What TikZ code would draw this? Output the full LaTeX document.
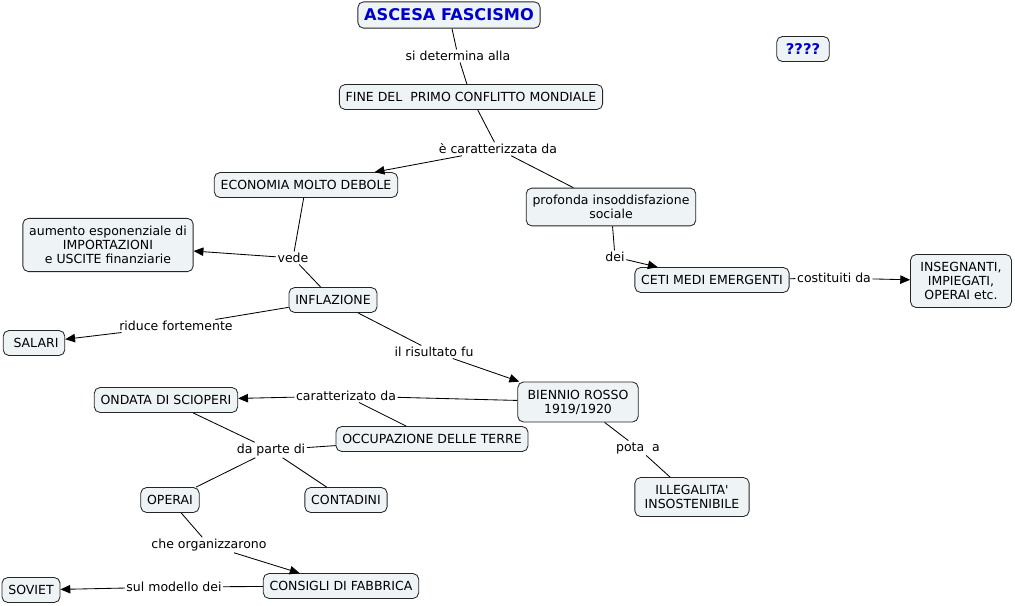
\documentclass[tikz,border=0pt]{standalone}
\usepackage{fontspec}
\setmainfont{DejaVu Sans}[Ligatures=TeXOff]
\usetikzlibrary{arrows.meta}
\definecolor{cmapfill}{RGB}{238,243,246}
\definecolor{cmapblue}{RGB}{0,0,204}

\begin{document}
\begin{tikzpicture}[x=0.025cm,y=-0.025cm,
	concept/.style={draw=black!85,fill=cmapfill,rounded corners=4pt,align=center,inner xsep=4.5pt,inner ysep=5pt,minimum height=17.7pt,line width=0.6pt,font=\fontsize{8.9}{10}\selectfont},
	wideconcept/.style={concept,inner xsep=7pt,inner ysep=5.5pt},
	title/.style={concept,text=cmapblue,font=\fontsize{11.5}{13}\selectfont\bfseries},
	linkword/.style={fill=white,inner sep=1pt,font=\fontsize{8.9}{10}\selectfont},
	link/.style={line width=0.6pt},
	arrowlink/.style={link,-{Triangle[length=7pt,width=6pt]}}]
	\useasboundingbox (0,0) rectangle (1015,606);

	%CONCEPTS
	\node[title] (ascesa) at (449,15) {ASCESA FASCISMO};
	\node[title,inner xsep=6.5pt,font=\fontsize{10.5}{12}\selectfont\bfseries] (domande) at (803,49) {????};
	\node[concept] (fine) at (471,97) {FINE DEL\ \ PRIMO CONFLITTO MONDIALE};
	\node[concept] (economia) at (306,185) {ECONOMIA MOLTO DEBOLE};
	\node[concept] (profonda) at (611,207) {profonda insoddisfazione\\sociale};
	\node[concept,inner ysep=5.5pt] (aumento) at (108,245) {aumento esponenziale di\\IMPORTAZIONI\\e USCITE finanziarie};
	\node[concept] (ceti) at (712,280) {CETI MEDI EMERGENTI};
	\node[wideconcept] (insegnanti) at (961,281) {INSEGNANTI,\\IMPIEGATI,\\OPERAI etc.};
	\node[concept] (inflazione) at (333,300) {INFLAZIONE};
	\node[concept] (salari) at (34,343) {\ SALARI};
	\node[wideconcept] (biennio) at (578,402) {BIENNIO ROSSO\\1919/1920};
	\node[concept] (ondata) at (166,400) {ONDATA DI SCIOPERI};
	\node[concept] (occupazione) at (432,439) {OCCUPAZIONE DELLE TERRE};
	\node[concept] (operai) at (170,500) {OPERAI};
	\node[concept] (contadini) at (346,500) {CONTADINI};
	\node[wideconcept] (illegalita) at (692,497) {ILLEGALITA'\\INSOSTENIBILE};
	\node[concept] (consigli) at (341,586) {CONSIGLI DI FABBRICA};
	\node[concept] (soviet) at (31,590) {SOVIET};

	%LINKING WORDS
	\node[linkword] (determina) at (458,56) {si determina alla};
	\node[linkword] (caratterizzata) at (498,149) {è caratterizzata da};
	\node[linkword] (vede) at (293,258) {vede};
	\node[linkword] (dei) at (615,257) {dei};
	\node[linkword] (costituiti) at (834,278) {costituiti da};
	\node[linkword] (riduce) at (176,326) {riduce fortemente};
	\node[linkword] (risultato) at (434,352) {il risultato fu};
	\node[linkword] (caratterizato) at (346,396) {caratterizato da};
	\node[linkword] (parte) at (271,450) {da parte di};
	\node[linkword] (porta) at (638,448) {pota\ \ a};
	\node[linkword] (organizzarono) at (209,545) {che organizzarono};
	\node[linkword] (modello) at (174,587) {sul modello dei};

	%CONNECTORS
	\draw[link] (ascesa)--(determina);	\draw[link] (determina)--(fine);
	\draw[link] (fine)--(caratterizzata);
	\draw[arrowlink] (caratterizzata)--(economia);
	\draw[link] (caratterizzata)--(profonda);
	\draw[link] (economia)--(vede);
	\draw[arrowlink] (vede)--(aumento);
	\draw[link] (vede)--(inflazione);
	\draw[link] (profonda)--(dei);	\draw[arrowlink] (dei)--(ceti);
	\draw[link] (ceti)--(costituiti);	\draw[arrowlink] (costituiti)--(insegnanti);
	\draw[link] (inflazione)--(riduce);	\draw[arrowlink] (riduce)--(salari);
	\draw[link] (inflazione)--(risultato);	\draw[arrowlink] (risultato)--(biennio);
	\draw[link] (biennio)--(caratterizato);
	\draw[arrowlink] (caratterizato)--(ondata);
	\draw[link] (caratterizato)--(occupazione);
	\draw[link] (ondata)--(parte);	\draw[link] (occupazione)--(parte);
	\draw[link] (parte)--(operai);	\draw[link] (parte)--(contadini);
	\draw[link] (biennio)--(porta);	\draw[link] (porta)--(illegalita);
	\draw[link] (operai)--(organizzarono);	\draw[arrowlink] (organizzarono)--(consigli);
	\draw[link] (consigli)--(modello);	\draw[arrowlink] (modello)--(soviet);
\end{tikzpicture}
\end{document}
